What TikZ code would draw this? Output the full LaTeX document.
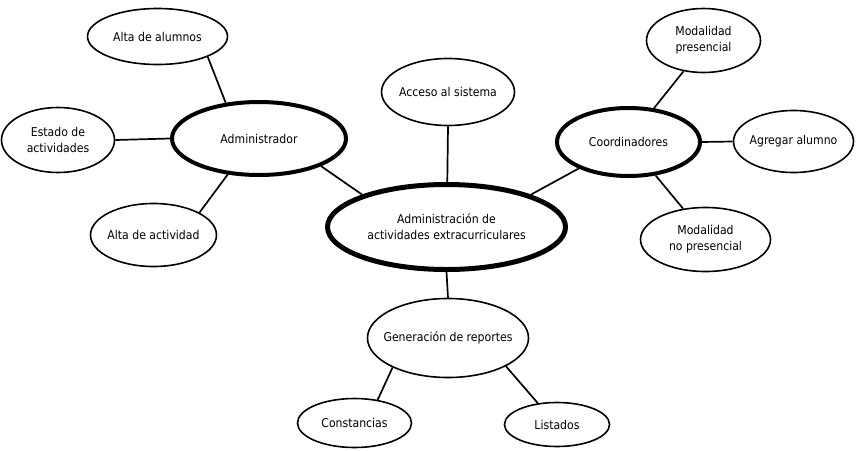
\documentclass[tikz,border=0pt]{standalone}
\usepackage{fontspec}
\setmainfont{DejaVu Sans Condensed}
\usetikzlibrary{shapes.geometric}
\tikzset{
  ell/.style={ellipse, draw=black, line width=1.6pt*0.75, inner sep=0pt, fill=white},
  thickell/.style={ellipse, draw=black, line width=4pt*0.75, inner sep=0pt, fill=white},
  centerell/.style={ellipse, draw=black, line width=5pt*0.75, inner sep=0pt, fill=white},
  txt/.style={font=\fontsize{9.1pt}{12pt}\selectfont, align=center, inner sep=0pt},
  conn/.style={draw=black, line width=1.7pt*0.75},
}
\newcommand{\ellnode}[7]{% style, name, x, y, rx, ry, text
  \node[#1, minimum width=#5*1.5pt, minimum height=#6*1.5pt,
        label={[txt]center:{#7}}] (#2) at (#3,#4) {};}
\begin{document}
\begin{tikzpicture}[x=0.75pt, y=-0.75pt]
\useasboundingbox[fill=white] (0,0) rectangle (856,450);
\ellnode{centerell}{main}{446.5}{227}{119}{42.5}{Administración de\\actividades extracurriculares}
\ellnode{thickell}{admin}{259}{138.5}{87}{36.5}{Administrador}
\ellnode{thickell}{coord}{628.5}{142}{71.5}{34}{Coordinadores}
\ellnode{ell}{acceso}{448}{92}{66.5}{33.5}{Acceso al sistema}
\ellnode{ell}{alumnos}{157.5}{36.5}{70}{28}{Alta de alumnos}
\ellnode{ell}{estado}{58}{140}{56.5}{32.5}{Estado de\\actividades}
\ellnode{ell}{actividad}{153.5}{235}{63}{31.5}{Alta de actividad}
\ellnode{ell}{modpres}{703.5}{40.5}{57}{32}{Modalidad\\presencial}
\ellnode{ell}{agregar}{793.5}{141.5}{60}{31}{Agregar alumno}
\ellnode{ell}{modno}{705.5}{239.5}{65}{32}{Modalidad\\no presencial}
\ellnode{ell}{gen}{448}{338}{80.5}{39.5}{Generación de reportes}
\ellnode{ell}{const}{354.5}{423}{57}{24.5}{Constancias}
\ellnode{ell}{list}{557}{424.5}{52.5}{22}{Listados}
% connectors
\draw[conn] (alumnos.-22) -- (admin.133);
\draw[conn] (estado.0) -- (admin.180);
\draw[conn] (admin.-131) -- (actividad.26);
\draw[conn] (admin.-24.7) -- (main.159.7);
\draw[conn] (acceso.-90) -- (main.89);
\draw[conn] (coord.-152.4) -- (main.21);
\draw[conn] (coord.53) -- (modpres.-123.5);
\draw[conn] (coord.0) -- (agregar.180);
\draw[conn] (coord.-51.6) -- (modno.126.7);
\draw[conn] (main.-90) -- (gen.90);
\draw[conn] (gen.-152.6) -- (const.45.6);
\draw[conn] (gen.-26) -- (list.132.9);
\end{tikzpicture}
\end{document}
